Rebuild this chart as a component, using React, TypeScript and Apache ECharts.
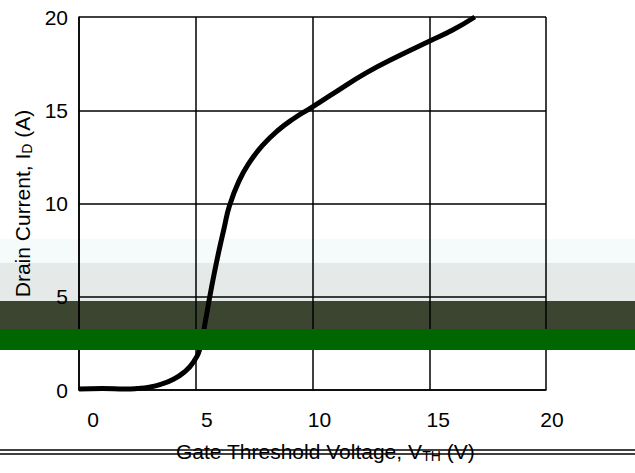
import React, { useEffect, useRef } from "react";
import * as echarts from "echarts";

const xTicks = [0, 5, 10, 15, 20];
const yTicks = [0, 5, 10, 15, 20];
const gateVoltage = [0, 1, 2, 2.5, 3, 3.5, 4, 4.5, 4.9, 5.2, 5.4, 5.6, 5.8, 6.0, 6.2, 6.45, 6.85, 7.3, 7.85, 8.5, 9.25, 9.9, 10.9, 12.3, 13.75, 15.0, 16.0, 16.95];
const drainCurrent = [0.05, 0.08, 0.05, 0.08, 0.15, 0.3, 0.55, 0.95, 1.5, 2.3, 3.6, 5.0, 6.3, 7.5, 8.6, 9.9, 11.2, 12.2, 13.1, 13.9, 14.6, 15.1, 15.9, 17.0, 17.95, 18.7, 19.3, 20.0];
const xLabelShift = [14, 11, 7, 9, 6];
const bandTops = [239, 263, 301, 329];
const bandBottoms = [263, 301, 329, 350];
const bandColors = ["#f5fafa", "#e5eae8", "#3c4530", "#006600"];

export default function App() {
  const ref = useRef<HTMLDivElement>(null);
  useEffect(() => {
    if (!ref.current) return;
    const chart = echarts.init(ref.current, null, { renderer: "svg" });
    const font = "Liberation Sans";
    const bands = bandTops.map((t, i) => ({
      type: "rect",
      shape: { x: 0, y: t, width: 635, height: bandBottoms[i] - t },
      style: { fill: bandColors[i] },
      z: i === 3 ? 100 : -10,
      silent: true,
    }));
    const labelRich: Record<string, any> = {};
    xTicks.forEach((t, i) => {
      labelRich["s" + i] = {
        fontFamily: font,
        fontSize: 21,
        color: "#000",
        padding: [0, 0, 0, xLabelShift[i] * 2],
      };
    });
    chart.setOption({
      animation: false,
      backgroundColor: "#ffffff",
      grid: { left: 79, right: 89, top: 17, bottom: 83 },
      xAxis: {
        type: "value",
        min: 0,
        max: 20,
        interval: 5,
        axisLine: { show: true, lineStyle: { color: "#000", width: 1.5 } },
        axisTick: { show: false },
        splitLine: { show: true, lineStyle: { color: "#000", width: 1.5 } },
        axisLabel: {
          color: "#000",
          fontFamily: font,
          fontSize: 21,
          margin: 19,
          rich: labelRich,
          formatter: (v: number) => {
            const i = xTicks.indexOf(v);
            return i >= 0 ? `{s${i}|${v}}` : "";
          },
        },
      },
      yAxis: {
        type: "value",
        min: 0,
        max: 20,
        interval: 5,
        name: "Drain Current, I{sub|D} (A)",
        nameLocation: "middle",
        nameGap: 43,
        nameRotate: 90,
        nameTextStyle: {
          color: "#000",
          fontFamily: font,
          fontSize: 21,
          rich: { sub: { fontSize: 14, verticalAlign: "bottom", padding: [8, 0, 0, 0], fontFamily: font, color: "#000" } },
        },
        axisLine: { show: true, lineStyle: { color: "#000", width: 1.5 } },
        axisTick: { show: false },
        splitLine: { show: true, lineStyle: { color: "#000", width: 1.5 } },
        axisLabel: {
          color: "#000",
          fontFamily: font,
          fontSize: 21,
          margin: 11,
          formatter: (v: number) => (yTicks.includes(v) ? String(v) : ""),
        },
      },
      graphic: [
        ...bands,
        {
          type: "text",
          left: 176,
          top: 441,
          style: {
            text: "Gate Threshold Voltage, V{sub|TH} (V)",
            fill: "#000",
            font: `21px ${font}`,
            rich: { sub: { fontSize: 14, padding: [8, 0, 0, 0], fontFamily: font, fill: "#000", color: "#000" } },
          },
        },
        {
          type: "line",
          shape: { x1: 0, y1: 450, x2: 635, y2: 450 },
          style: { stroke: "#000", lineWidth: 1.5 },
        },
        {
          type: "line",
          shape: { x1: 0, y1: 454, x2: 635, y2: 454 },
          style: { stroke: "#000", lineWidth: 1.5 },
        },
      ],
      series: [
        {
          type: "line",
          data: gateVoltage.map((v, i) => [v, drainCurrent[i]]),
          smooth: 0.5,
          showSymbol: false,
          lineStyle: { color: "#000", width: 5 },
          z: 5,
        },
      ],
    });
    return () => chart.dispose();
  }, []);
  return (
    <div
      ref={ref}
      style={{ position: "fixed", left: 0, top: 0, width: 635, height: 473 }}
    />
  );
}
